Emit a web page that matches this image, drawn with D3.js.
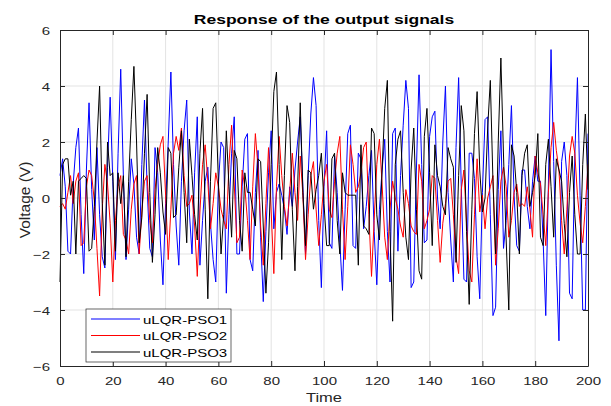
<!DOCTYPE html>
<html>
  <head>
    <meta charset="utf-8">
    <title>Response of the output signals</title>
    <script src="https://cdn.jsdelivr.net/npm/d3@7"></script>
    <style>
      body { margin: 0; background: #fff; }
      text { font-family: "Liberation Sans", Arial, sans-serif; fill: #262626; }
      .grid line { stroke: #e3e3e3; stroke-width: 1; }
      .axis path, .axis line { stroke: #262626; }
    </style>
  </head>
  <body>
    <svg id="chart" width="611" height="406"></svg>
    <script>
      // sample times and the three output signals
      const time = d3.range(0, 201);

      const pso1 = [
        0.8, 1.4, 0.4, -1.9, -2.0, 0.5, 1.8, 2.5, -0.6, -2.7,
        1.0, 3.4, 0.3, -1.5, 1.8, -0.6, -2.1, -2.5, 1.1, 3.6,
        0.6, -2.2, 1.6, 4.6, 0.8, -2.2, -0.4, 1.4, 0.5, -1.4,
        -2.0, 1.2, 3.5, 0.4, -1.8, -2.1, 1.8, 0.9, -1.5, -3.1,
        -0.2, 2.0, 4.5, 1.2, -1.0, -2.4, 0.6, 2.4, 3.5, -0.5,
        -2.0, 0.9, 2.9, -2.4, -0.8, 0.6, 1.1, -0.9, -2.2, -3.0,
        0.5, 2.0, 1.8, -3.4, -0.6, 1.6, 2.9, -2.0, -2.0, 0.4,
        2.1, 2.3, -2.2, -2.6, 0.2, 1.7, -1.4, -3.7, -1.2, 0.9,
        2.4, -1.1, 0.2, 0.5, 0.1, -0.4, -1.3, 0.4, -0.3, 1.0,
        2.0, 2.9, 0.4, -2.0, 0.8, 3.0, 4.3, 3.3, -0.8, -3.2,
        0.4, 2.4, -1.6, -1.8, 1.5, 0.2, -1.6, -3.3, -0.4, 2.3,
        2.6, -1.7, -1.8, 1.6, 1.4, -1.1, -0.3, 0.8, 1.7, -1.2,
        -3.1, -0.4, 1.0, 2.1, -1.2, -3.0, 2.3, 2.5, -1.9, 0.8,
        2.6, 4.2, 3.2, -3.2, -3.0, 1.0, 4.4, 1.2, -1.6, -1.5,
        2.2, 2.9, 3.1, 0.0, -1.1, 2.0, 4.0, 0.2, -1.5, -3.0,
        1.8, 4.3, 0.4, -2.9, -3.0, 1.6, 1.6, 0.7, -2.1, -3.6,
        0.2, 2.8, 2.9, -0.6, -4.2, -3.9, 0.3, 2.4, -1.8, -0.8,
        1.2, 3.3, 0.1, -1.7, -1.9, 1.0, 1.0, -0.3, -1.1, 0.6,
        1.5, 0.6, 0.6, -1.5, -4.2, 0.5, 5.3, 1.3, -2.4, -5.1,
        1.3, 2.0, 0.8, -3.4, -3.6, 1.5, 4.3, 0.1, -4.0, -4.0,
        2.3
      ];

      const pso2 = [
        -0.3, -0.2, -0.4, 0.2, 0.8, -0.2, 0.6, 0.9, -1.7, -1.6,
        0.4, 1.0, 0.8, -0.1, -1.8, -3.5, -0.4, 1.2, 0.5, -0.9,
        -3.0, -0.8, 0.4, 0.8, -1.3, -1.5, -2.0, -0.4, 0.5, 0.8,
        -2.0, -0.5, 0.6, 0.8, -0.8, -1.6, 0.3, 1.2, 1.9, 2.2,
        0.1, -2.2, -0.4, 1.6, 2.2, 1.7, 2.5, 0.8, -0.3, -0.2,
        0.1, -1.0, -2.8, -0.5, 1.2, 1.9, 0.6, -1.1, -0.2, 0.9,
        0.4, -0.4, -0.8, -1.1, 1.2, 2.6, 0.5, -1.6, -1.4, 1.0,
        0.4, -0.8, -2.2, 0.4, 2.3, 1.1, -1.0, -2.4, -0.2, 1.8,
        -0.5, -2.7, 0.4, 2.2, 0.8, -0.3, -1.0, 0.2, 1.6, 0.2,
        -0.8, 1.5, 0.1, -2.2, -0.6, 0.8, 1.3, -0.4, -1.7, -0.6,
        0.6, 1.2, -0.4, -0.7, 0.6, 1.6, 2.2, -0.4, -2.2, -0.3,
        1.9, 1.2, 0.2, 0.4, 0.9, 1.8, 2.0, -0.6, -2.8, -0.8,
        1.2, 2.1, 0.5, -1.4, -2.2, -0.4, 0.6, 0.0, -0.4, -1.0,
        -1.4, 0.3, -0.2, -1.0, -1.2, -1.3, 1.2, 0.6, -1.1, -0.8,
        -0.4, 0.8, 0.7, -0.8, -2.3, -0.9, -0.2, 0.6, 0.7, -0.6,
        -2.1, -2.7, 0.3, 1.0, -0.9, -2.6, -3.0, -0.6, 1.4, -0.5,
        0.1, -1.1, 0.0, 0.4, 0.8, -2.4, -1.1, 0.6, 1.1, 0.4,
        -1.4, -0.8, 0.2, 0.5, -0.3, -0.2, -0.3, 0.4, -0.4, -1.4,
        1.5, 0.9, 0.5, -0.6, -1.7, 0.2, 1.8, 2.7, 1.7, 1.0,
        -0.8, -2.0, -0.4, 1.5, 2.2, 1.6, 0.1, -0.9, -1.6, -0.3,
        1.2
      ];

      const pso3 = [
        -3.0, 1.2, 1.4, 1.4, 0.1, 0.6, -2.0, 0.6, 0.7, 0.8,
        0.7, -1.9, -1.8, -0.3, 2.0, 4.0, -0.2, -2.4, 2.0, 0.8,
        0.9, -1.9, 0.9, -0.2, 0.8, -2.1, 0.6, 2.8, 4.7, 2.0,
        -1.6, -0.7, 1.6, 3.7, 0.2, -2.3, -0.6, 1.8, 0.9, -0.5,
        -1.3, 1.8, 1.6, -0.7, -0.6, 1.1, 2.4, 0.2, -1.6, 2.1,
        0.8, -0.6, -1.5, 1.6, 3.2, -0.4, -3.6, 0.6, 3.2, 3.4,
        0.6, -2.0, -0.6, 2.4, 0.4, -1.4, 1.7, 1.4, -0.8, -1.9,
        0.9, 0.2, 0.2, -0.4, -1.0, 1.4, 1.3, -1.0, -3.4, -1.6,
        1.2, 3.8, 4.5, 1.2, -2.2, 0.8, 3.3, 2.7, -0.4, -2.6,
        0.4, 3.4, 0.2, -1.7, 1.0, 0.9, -0.4, 0.3, 0.8, 1.6,
        -0.2, -1.7, -1.7, 1.4, 1.6, -0.8, -2.0, 0.9, 0.2, 0.1,
        0.1, 0.1, 0.1, -2.4, 1.9, -1.0, -1.1, -1.3, 2.5, 2.3,
        -0.6, -1.5, 1.0, 3.2, 4.2, -1.2, -4.4, 1.2, 2.1, 2.4,
        0.2, -1.4, -2.2, 1.0, 2.5, -0.4, -2.6, -2.9, 2.2, 3.2,
        0.9, -1.7, 1.9, 0.8, 0.4, -0.3, -0.6, 1.8, 1.4, 1.1,
        -2.3, 0.8, 3.3, 2.4, -1.2, -3.8, -0.4, 2.3, 3.8, 1.0,
        -0.5, 0.0, 2.5, 4.2, 0.6, -2.0, 2.0, 5.0, 1.5, -1.5,
        -4.0, 1.9, 1.5, 0.2, -2.0, 0.8, 1.6, 1.9, -0.3, 0.2,
        0.8, 2.3, -1.4, -1.7, 1.2, 2.1, 0.4, -1.4, 1.4, 1.0,
        0.6, -0.9, -2.1, 0.2, 1.5, -0.6, -2.0, -2.0, 1.2, 3.0,
        0.3
      ];

      const seriesNames = ["uLQR-PSO1", "uLQR-PSO2", "uLQR-PSO3"];
      const seriesColors = ["#0000ff", "#ff0000", "#000000"];
      const xTicks = [0, 20, 40, 60, 80, 100, 120, 140, 160, 180, 200];
      const yTicks = [-6, -4, -2, 0, 2, 4, 6];

      const svg = d3.select("#chart");
      const plotLeft = 60, plotRight = 588, plotTop = 30, plotBottom = 366;
      // the figure was squeezed vertically, so text is too
      const squash = "scale(1,0.775)";

      const x = d3.scaleLinear().domain([0, 200]).range([plotLeft, plotRight]);
      const y = d3.scaleLinear().domain([-6, 6]).range([plotBottom, plotTop]);
      const color = d3.scaleOrdinal(seriesNames, seriesColors);

      // grid
      const grid = svg.append("g").attr("class", "grid");
      grid.selectAll(".gx")
        .data(xTicks.slice(1, -1))
        .enter().append("line")
        .attr("x1", (d) => x(d)).attr("x2", (d) => x(d))
        .attr("y1", plotTop).attr("y2", plotBottom);
      grid.selectAll(".gy")
        .data(yTicks.slice(1, -1))
        .enter().append("line")
        .attr("x1", plotLeft).attr("x2", plotRight)
        .attr("y1", (d) => y(d)).attr("y2", (d) => y(d));

      // signals, black drawn last so it sits on top
      const series = [pso1, pso2, pso3];
      const line = d3.line()
        .x((d, i) => x(time[i]))
        .y((d) => y(d));

      svg.append("g")
        .selectAll("path")
        .data(series)
        .enter().append("path")
        .attr("d", line)
        .attr("fill", "none")
        .attr("stroke", (d, i) => color(seriesNames[i]))
        .attr("stroke-width", 1)
        .attr("stroke-linejoin", "round");

      // axes, ticks pointing inwards like matlab
      const xAxis = svg.append("g")
        .attr("class", "axis")
        .attr("transform", `translate(0,${plotBottom})`)
        .call(d3.axisBottom(x).tickValues(xTicks).tickSizeInner(-5).tickSizeOuter(0));
      xAxis.selectAll("text")
        .attr("y", 0).attr("dy", 0)
        .attr("font-size", 15)
        .attr("transform", `translate(0,19) ${squash}`);

      svg.append("g")
        .attr("class", "axis")
        .attr("transform", `translate(0,${plotTop})`)
        .call(d3.axisTop(x).tickValues(xTicks).tickSizeInner(-5).tickSizeOuter(0).tickFormat(""));

      const yAxis = svg.append("g")
        .attr("class", "axis")
        .attr("transform", `translate(${plotLeft},0)`)
        .call(d3.axisLeft(y).tickValues(yTicks).tickSizeInner(-5).tickSizeOuter(0));
      yAxis.selectAll("text")
        .attr("x", -10).attr("dy", 0)
        .attr("font-size", 15)
        .attr("transform", `translate(0,4.2) ${squash}`);

      svg.append("g")
        .attr("class", "axis")
        .attr("transform", `translate(${plotRight},0)`)
        .call(d3.axisRight(y).tickValues(yTicks).tickSizeInner(-5).tickSizeOuter(0).tickFormat(""));

      svg.selectAll(".axis .domain").attr("stroke", "#262626");

      // title and labels
      svg.append("text")
        .attr("transform", `translate(${(plotLeft + plotRight) / 2},24) ${squash}`)
        .attr("text-anchor", "middle")
        .attr("font-size", 17.5)
        .attr("font-weight", "bold")
        .style("fill", "#000")
        .text("Response of the output signals");

      svg.append("text")
        .attr("transform", `translate(${(plotLeft + plotRight) / 2},401.5) ${squash}`)
        .attr("text-anchor", "middle")
        .attr("font-size", 16.5)
        .text("Time");

      svg.append("text")
        .attr("transform", `translate(30,${y(0) + 2}) rotate(-90)`)
        .attr("text-anchor", "middle")
        .attr("font-size", 15.5)
        .text("Voltage (V)");

      // legend
      const legend = svg.append("g").attr("class", "legend");
      legend.append("rect")
        .attr("x", 86).attr("y", 309)
        .attr("width", 145).attr("height", 53)
        .attr("fill", "#fff")
        .attr("stroke", "#262626")
        .attr("stroke-width", 0.7);

      seriesNames.forEach((name, i) => {
        const rowY = 319 + i * 16.5;
        legend.append("line")
          .attr("x1", 91).attr("x2", 140)
          .attr("y1", rowY).attr("y2", rowY)
          .style("stroke", color(name))
          .style("stroke-width", 1.2);
        legend.append("text")
          .attr("transform", `translate(143,${rowY + 4.5}) ${squash}`)
          .attr("font-size", 15)
          .style("fill", "#000")
          .text(name);
      });
    </script>
  </body>
</html>
